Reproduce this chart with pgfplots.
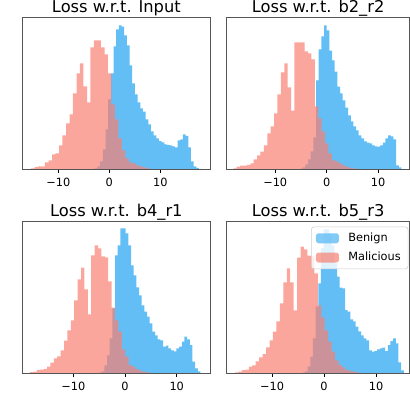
\documentclass[border=0pt]{standalone}
\usepackage{fontspec}
\setmainfont{DejaVu Sans}
\usepackage{pgfplots}
\usepackage{pgfplotstable}
\pgfplotsset{compat=1.18}
\definecolor{benign}{RGB}{99,190,245}
\definecolor{malic}{RGB}{250,128,114}
\definecolor{spine}{RGB}{85,85,85}

\pgfplotstableread{
x h
-15.35 1
-14.66 2.3
-13.98 3
-13.29 3
-12.61 7
-11.92 9
-11.23 15
-10.55 16
-9.86 24
-9.18 34
-8.49 46
-7.80 55
-7.12 76
-6.43 96
-5.75 106
-5.06 83
-4.37 67
-3.69 122
-3.00 129
-2.32 129
-1.63 122
-0.94 115
-0.26 96
0.43 65
1.11 50
1.80 31
2.49 19
3.17 11
3.86 7
4.54 6
5.23 4
5.92 3
6.60 2
7.29 1
7.97 0
}\malA

\pgfplotstableread{
x h
-3.35 0.5
-2.83 1
-2.31 3
-1.78 8
-1.26 20
-0.74 40
-0.21 70
0.31 96
0.84 123
1.36 140
1.88 144
2.41 142.6
2.93 134
3.45 124
3.98 104
4.50 86
5.02 75
5.55 67
6.07 61
6.59 57.7
7.12 50
7.64 45
8.16 38
8.69 34
9.21 31
9.73 28.3
10.26 27
10.78 25
11.31 24.5
11.83 24
12.35 23
12.88 22
13.40 29
13.92 30
14.45 35
14.97 33.5
15.49 22
16.02 8
16.54 3
17.06 1.5
17.59 0
}\benA

\pgfplotstableread{
x h
-18.14 1
-17.48 2.6
-16.82 3.6
-16.16 3.6
-15.50 4.5
-14.84 6
-14.18 10
-13.52 14
-12.86 17.7
-12.20 24
-11.54 36
-10.88 43
-10.22 56
-9.56 75
-8.90 97
-8.24 106
-7.58 82
-6.92 58.6
-6.26 127
-5.60 127
-4.94 127
-4.28 118
-3.62 116
-2.96 110
-2.30 63
-1.64 51
-0.98 38
-0.32 26
0.34 16
1.00 9
1.66 8
2.32 6
2.98 4
3.64 2.6
4.30 1.5
4.96 1
5.62 0.5
6.28 0
}\malB

\pgfplotstableread{
x h
-5.18 0.7
-4.67 2
-4.15 5
-3.63 10
-3.11 18
-2.59 32
-2.07 89
-1.56 120
-1.04 133
-0.52 144
0.00 139
0.52 118.6
1.04 109
1.56 97.6
2.07 82.6
2.59 76
3.11 69
3.63 61.6
4.15 54
4.67 48
5.18 43
5.70 39
6.22 34
6.74 31
7.26 28
7.78 26.6
8.29 26
8.81 24
9.33 23
9.85 22.6
10.37 24
10.89 26.6
11.41 31
11.93 34
12.44 33
12.96 30
13.48 4
14.00 2
14.52 0
}\benB

\pgfplotstableread{
x h
-18.38 1.2
-17.72 1.6
-17.06 3.3
-16.40 3.6
-15.74 4.5
-15.09 6.6
-14.43 10.6
-13.77 15
-13.11 17
-12.46 23
-11.80 32.6
-11.14 43
-10.48 53
-9.83 73
-9.17 94
-8.51 105.6
-7.85 84
-7.20 59
-6.54 118
-5.88 128
-5.22 125
-4.57 117
-3.91 116
-3.25 92
-2.59 65.6
-1.94 53
-1.28 41.6
-0.62 24
0.04 16.6
0.70 8.3
1.35 6.6
2.01 4.3
2.67 2.6
3.33 1.6
3.98 1
4.64 0.5
5.30 0
}\malC

\pgfplotstableread{
x h
-5.03 0.7
-4.51 2
-4.00 8
-3.48 18
-2.96 35
-2.45 65
-1.93 118
-1.41 128
-0.90 145
-0.38 145
0.14 140
0.65 128
1.17 108
1.68 98
2.20 86
2.72 78
3.23 68
3.75 61.6
4.27 56.6
4.78 50
5.30 41.6
5.82 38
6.33 34
6.85 33
7.36 26.6
7.88 27.6
8.40 25
8.91 23
9.43 22
9.95 25
10.46 26.6
10.98 31.6
11.50 36.6
12.01 34
12.53 28.3
13.05 11.6
13.56 5
14.08 2
14.59 0
}\benC

\pgfplotstableread{
x h
-17.12 1
-16.45 1.6
-15.79 3.3
-15.12 3.8
-14.46 6.6
-13.80 8
-13.13 12
-12.47 16
-11.81 19.3
-11.14 26
-10.48 33
-9.82 41.6
-9.15 52
-8.49 70
-7.83 91
-7.16 105
-6.50 91
-5.84 63
-5.17 115.6
-4.51 126.6
-3.85 124
-3.18 117.6
-2.52 117
-1.85 100
-1.19 68
-0.53 55.6
0.14 43
0.80 31.6
1.46 21.6
2.13 13
2.79 8.3
3.45 6
4.12 3.3
4.78 2.5
5.44 1.6
6.11 1
6.77 0
}\malD

\pgfplotstableread{
x h
-4.17 0.7
-3.66 2
-3.15 7
-2.63 16.6
-2.12 35
-1.61 66.6
-1.09 90
-0.58 125
-0.07 144
0.45 144
0.96 140
1.48 128
1.99 110
2.50 96.6
3.02 85.6
3.53 85
4.04 63.3
4.56 61.6
5.07 54
5.58 52
6.10 46.6
6.61 42
7.12 38
7.64 35
8.15 33
8.66 23
9.18 21.6
9.69 22.3
10.21 24
10.72 25
11.23 25.6
11.75 22.3
12.26 28.3
12.77 32.3
13.29 35
13.80 30
14.31 11
14.83 3
15.34 0
}\benD

\pgfplotsset{
  panel/.style={
    scale only axis,
    anchor=north west,
    ymin=0,
    axis on top,
    axis line style={draw=spine, line width=0.75pt},
    ytick=\empty,
    xtick={-10,0,10},
    xticklabels={−10,0,10},
    tick align=outside,
    tick pos=left,
    major tick length=2.6pt,
    tick style={black, line width=0.6pt},
    tick label style={font=\fontsize{8.5}{10}\selectfont},
    xticklabel style={yshift=-0.5pt},
    title style={font=\fontsize{12.2}{14}\selectfont, anchor=base, at={(0.5,1)}, yshift=-2.3pt},
  },
  legpatch/.style={legend image code/.code={\fill[##1] (0pt,-3.75pt) rectangle (17.25pt,3.75pt);}},
  benplot/.style={ybar interval, fill=benign, draw=none, legpatch},
  malplot/.style={ybar interval, fill=malic, fill opacity=0.7, draw=none, legpatch},
}

\begin{document}
\begin{tikzpicture}
\useasboundingbox (0,0) rectangle (307.5pt,-300pt);

\begin{axis}[panel, at={(17.03pt,-12.98pt)}, width=140.48pt, height=114pt,
  xmin=-16.98, xmax=19.75, ymax=152, title={Loss w.r.t. Input}]
\addplot[benplot] table[x=x,y=h]{\benA};
\addplot[malplot] table[x=x,y=h]{\malA};
\end{axis}

\begin{axis}[panel, at={(170.03pt,-12.98pt)}, width=137.1pt, height=114pt,
  xmin=-19.42, xmax=16.08, ymax=152, title={Loss w.r.t. b2\_r2}]
\addplot[benplot] table[x=x,y=h]{\benB};
\addplot[malplot] table[x=x,y=h]{\malB};
\end{axis}

\begin{axis}[panel, at={(17.03pt,-166.28pt)}, width=140.48pt, height=113.7pt,
  xmin=-19.79, xmax=16.44, ymax=151.6, title={Loss w.r.t. b4\_r1}]
\addplot[benplot] table[x=x,y=h]{\benC};
\addplot[malplot] table[x=x,y=h]{\malC};
\end{axis}

\begin{axis}[panel, at={(170.03pt,-166.28pt)}, width=137.1pt, height=113.7pt,
  xmin=-18.71, xmax=16.44, ymax=151.6, title={Loss w.r.t. b5\_r3},
  legend cell align=left,
  legend style={at={(1,1)}, anchor=north east, xshift=-0.9pt, yshift=-3.75pt,
    draw=black!20, rounded corners=2pt, fill=white, fill opacity=0.8, text opacity=1,
    font=\fontsize{8.5}{10}\selectfont, inner xsep=3.5pt, inner ysep=2.5pt,
    row sep=2.5pt, /tikz/every odd column/.append style={column sep=5pt}}]
\addplot[benplot] table[x=x,y=h]{\benD};
\addlegendentry{Benign}
\addplot[malplot] table[x=x,y=h]{\malD};
\addlegendentry{Malicious}
\end{axis}
\end{tikzpicture}
\end{document}
